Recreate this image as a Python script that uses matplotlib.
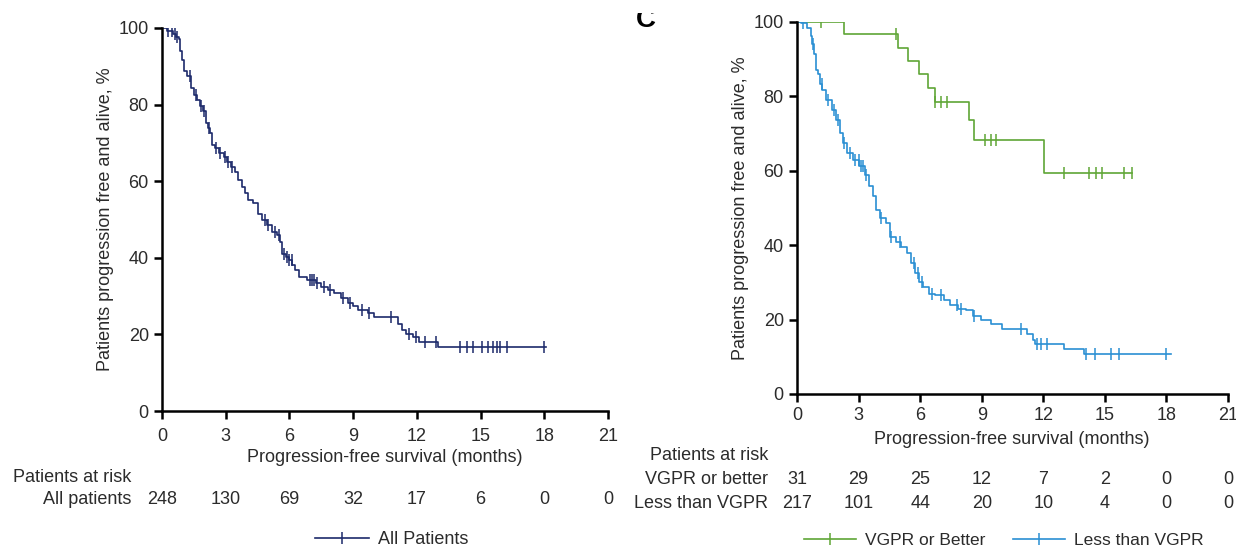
import numpy as np
import matplotlib
matplotlib.use("Agg")
import matplotlib.pyplot as plt
from matplotlib.lines import Line2D
from matplotlib.transforms import blended_transform_factory, Bbox

plt.rcParams["font.family"] = ["Liberation Sans", "DejaVu Sans"]
TEXT = "#2b2b2b"
FS = 13

# ---- panel B: all patients ----
all_t = [0, 0.25, 0.5, 0.65, 0.8, 0.87, 0.95, 1.03, 1.2, 1.35,
         1.5, 1.65, 1.8, 1.95, 2.05, 2.15, 2.25, 2.35, 2.5, 2.7,
         2.9, 3.05, 3.25, 3.45, 3.6, 3.75, 3.9, 4.05, 4.3, 4.5,
         4.7, 4.93, 5.17, 5.41, 5.57, 5.65, 5.85, 5.97, 6.13, 6.28,
         6.44, 6.84, 7.24, 7.48, 7.8, 8.11, 8.43, 8.75, 8.99, 9.23,
         9.7, 10.0, 11.1, 11.3, 11.5, 11.8, 12.1, 13.0, 14.0]
all_s = [100, 99.2, 98.4, 97.6, 97.0, 94.0, 91.7, 88.7, 87.4, 84.3,
         82.5, 81.2, 79.6, 78.2, 75.1, 73.8, 72.5, 69.5, 68.6, 67.3,
         66.2, 65.1, 63.8, 62.4, 60.3, 58.5, 56.9, 55.1, 54.2, 51.5,
         49.9, 48.6, 46.8, 45.9, 44.2, 41.1, 40.3, 39.4, 38.1, 36.8,
         35.0, 34.2, 33.4, 32.4, 31.6, 30.7, 29.4, 28.1, 27.4, 26.3,
         25.5, 24.6, 22.8, 21.1, 20.2, 19.4, 18.0, 16.7, 16.7]
all_end = 18.1
all_cens = [0.3, 0.45, 0.6, 0.7, 1.3, 1.6, 1.85, 2.0, 2.2, 2.55,
            2.75, 2.95, 3.1, 3.3, 4.85, 5.0, 5.3, 5.5, 5.75, 5.9,
            6.0, 6.1, 6.95, 7.05, 7.15, 7.3, 7.65, 7.9, 8.5, 8.85,
            9.4, 9.75, 10.8, 11.65, 11.95, 12.4, 12.9, 14.05, 14.35, 14.65,
            15.05, 15.35, 15.6, 15.75, 15.9, 16.25, 18.0]
all_risk = [248, 130, 69, 32, 17, 6, 0, 0]

# ---- panel C: by response ----
vgpr_t = [0, 2.3, 4.9, 5.4, 5.95, 6.4, 6.7, 8.4, 8.6, 12.05]
vgpr_s = [100, 96.8, 93.0, 89.4, 85.9, 82.3, 78.4, 73.7, 68.3, 59.5]
vgpr_end = 16.3
vgpr_cens = [1.15, 4.8, 6.7, 7.0, 7.3, 9.15, 9.45, 9.7, 13.0, 14.25,
             14.55, 14.85, 15.95, 16.3]

less_t = [0, 0.19, 0.47, 0.66, 0.75, 0.85, 0.94, 1.04, 1.13, 1.23,
          1.42, 1.7, 1.89, 2.08, 2.26, 2.45, 2.74, 3.02, 3.3, 3.49,
          3.68, 3.87, 4.06, 4.34, 4.53, 4.81, 5.09, 5.38, 5.57, 5.75,
          5.94, 6.13, 6.41, 6.7, 7.17, 7.45, 7.83, 8.21, 8.58, 8.96,
          9.43, 10.0, 11.2, 11.5, 11.6, 13.0, 14.0]
less_s = [100, 99.6, 98.5, 96.2, 94.0, 91.3, 87.2, 85.9, 83.2, 81.8,
          79.1, 76.4, 73.7, 70.1, 67.4, 64.7, 62.9, 61.2, 58.9, 55.8,
          53.1, 49.5, 47.2, 45.9, 42.3, 40.9, 39.6, 37.8, 35.1, 32.4,
          30.1, 28.8, 27.0, 26.5, 25.2, 23.8, 22.9, 22.5, 21.1, 19.8,
          18.9, 17.5, 16.2, 14.4, 13.5, 12.1, 10.8]
less_end = 18.2
less_cens = [0.3, 0.8, 1.2, 1.5, 1.8, 2.0, 2.3, 2.6, 2.85, 3.0,
             3.1, 3.2, 3.35, 4.1, 4.6, 5.0, 5.7, 5.9, 6.1, 6.6,
             7.0, 7.8, 8.0, 8.6, 10.9, 11.7, 11.9, 12.2, 14.1, 14.5,
             15.3, 15.7, 18.0]
vgpr_risk = [31, 29, 25, 12, 7, 2, 0, 0]
less_risk = [217, 101, 44, 20, 10, 4, 0, 0]

months = [0, 3, 6, 9, 12, 15, 18, 21]

NAVY = "#1d2a6b"
GREEN = "#5fa636"
BLUE = "#2a8fd3"


def km_curve(ax, t, s, end, cens, color):
    t = np.asarray(t, float)
    s = np.asarray(s, float)
    xs = np.append(t, end)
    ys = np.append(s, s[-1])
    ax.step(xs, ys, where="post", color=color, lw=1.2)
    idx = np.searchsorted(t, cens, side="right") - 1
    ax.plot(cens, s[idx], ls="none", marker="|", ms=8, mew=1.1, color=color)


def style_axes(ax, pad):
    ax.set_xlim(0, 21)
    ax.set_ylim(0, 100)
    ax.set_xticks(months)
    ax.set_yticks([0, 20, 40, 60, 80, 100])
    for side in ("top", "right"):
        ax.spines[side].set_visible(False)
    for side in ("left", "bottom"):
        ax.spines[side].set_linewidth(1.8)
        ax.spines[side].set_color("black")
    ax.tick_params(direction="out", length=6, width=1.8, colors="black",
                   labelcolor=TEXT, labelsize=FS)
    ax.tick_params(axis="x", pad=pad)
    ax.set_ylabel("Patients progression free and alive, %", fontsize=FS,
                  color=TEXT, labelpad=3)


fig = plt.figure(figsize=(12.36, 5.48), dpi=100)
W, H = 1236.0, 548.0

axL = fig.add_axes([162 / W, 1 - 411 / H, 446 / W, 383 / H])
axR = fig.add_axes([797 / W, 1 - 394 / H, 431 / W, 372 / H])

km_curve(axL, all_t, all_s, all_end, all_cens, NAVY)
km_curve(axR, vgpr_t, vgpr_s, vgpr_end, vgpr_cens, GREEN)
km_curve(axR, less_t, less_s, less_end, less_cens, BLUE)

style_axes(axL, pad=6)
style_axes(axR, pad=3)

# x-axis titles
fig.text(385 / W, 1 - 458 / H, "Progression-free survival (months)",
         ha="center", va="center", fontsize=FS, color=TEXT)
fig.text(1012 / W, 1 - 439 / H, "Progression-free survival (months)",
         ha="center", va="center", fontsize=FS, color=TEXT)

# number-at-risk tables
trL = blended_transform_factory(axL.transData, fig.transFigure)
trR = blended_transform_factory(axR.transData, fig.transFigure)

fig.text(13 / W, 1 - 477 / H, "Patients at risk", ha="left", va="center",
         fontsize=FS, color=TEXT)
fig.text(131 / W, 1 - 500 / H, "All patients", ha="right", va="center",
         fontsize=FS, color=TEXT)
for m, n in zip(months, all_risk):
    axL.text(m, 1 - 500 / H, str(n), transform=trL, ha="center",
             va="center", fontsize=FS, color=TEXT)

fig.text(768 / W, 1 - 455 / H, "Patients at risk", ha="right", va="center",
         fontsize=FS, color=TEXT)
fig.text(768 / W, 1 - 479 / H, "VGPR or better", ha="right", va="center",
         fontsize=FS, color=TEXT)
fig.text(768 / W, 1 - 503 / H, "Less than VGPR", ha="right", va="center",
         fontsize=FS, color=TEXT)
for m, a, b in zip(months, vgpr_risk, less_risk):
    axR.text(m, 1 - 479 / H, str(a), transform=trR, ha="center",
             va="center", fontsize=FS, color=TEXT)
    axR.text(m, 1 - 503 / H, str(b), transform=trR, ha="center",
             va="center", fontsize=FS, color=TEXT)


# legends
def legend_handle(color):
    return Line2D([], [], color=color, lw=1.2, marker="|", ms=9, mew=1.1)


fig.legend([legend_handle(NAVY)], ["All Patients"], loc="center",
           bbox_to_anchor=(392 / W, 1 - 540 / H), frameon=False,
           fontsize=FS, handlelength=3.0, handletextpad=0.5,
           labelcolor=TEXT)
fig.legend([legend_handle(GREEN), legend_handle(BLUE)],
           ["VGPR or Better", "Less than VGPR"], loc="center", ncol=2,
           bbox_to_anchor=(1004 / W, 1 - 540 / H), frameon=False,
           fontsize=12.5, handlelength=3.0, handletextpad=0.5,
           columnspacing=1.6, labelcolor=TEXT)

# panel letter, cut off at the top edge
c = fig.text(636 / W, 1 - 27 / H, "C", ha="left", va="baseline",
             fontsize=20, fontweight="bold", color="black")
c.set_clip_box(Bbox.from_extents(600, 0, 700, H - 13))
c.set_clip_on(True)

fig.savefig("out.png", dpi=100)
